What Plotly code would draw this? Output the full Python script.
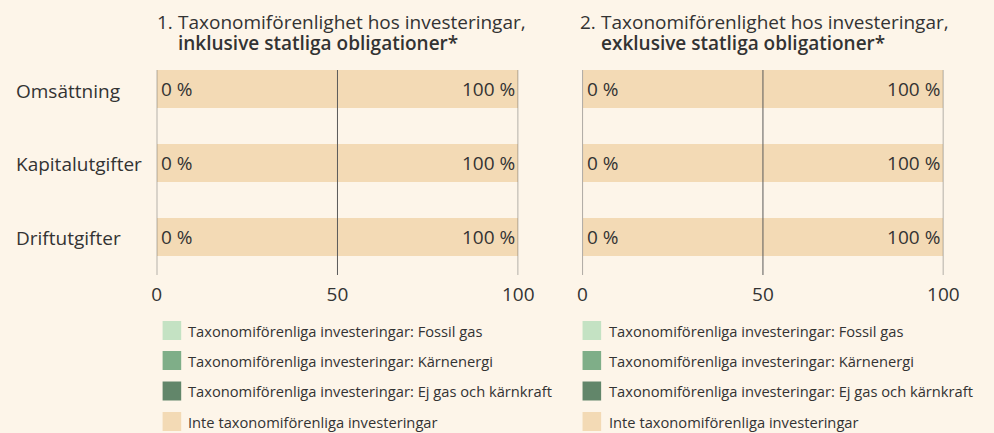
import plotly.graph_objects as go

W, H = 994, 433

categories = ["Omsättning", "Kapitalutgifter", "Driftutgifter"]

# Chart 1: inklusive statliga obligationer
fossil_gas_1 = [0, 0, 0]
karnenergi_1 = [0, 0, 0]
ej_gas_1 = [0, 0, 0]
inte_1 = [100, 100, 100]

# Chart 2: exklusive statliga obligationer
fossil_gas_2 = [0, 0, 0]
karnenergi_2 = [0, 0, 0]
ej_gas_2 = [0, 0, 0]
inte_2 = [100, 100, 100]

series_names = [
    "Taxonomiförenliga investeringar: Fossil gas",
    "Taxonomiförenliga investeringar: Kärnenergi",
    "Taxonomiförenliga investeringar: Ej gas och kärnkraft",
    "Inte taxonomiförenliga investeringar",
]
series_colors = ["#c4e2c3", "#7fae88", "#62866a", "#f3dab5"]

titles = [
    ("1.", "Taxonomiförenlighet hos investeringar,", "inklusive statliga obligationer*"),
    ("2.", "Taxonomiförenlighet hos investeringar,", "exklusive statliga obligationer*"),
]
x_ticks = [0, 50, 100]

BG = "#fdf5e9"
TXT = "#333333"
FONT = "Open Sans"
FS = 19


def px(x):
    return x / W


def py(y):
    return 1 - y / H


fig = go.Figure()
annotations = []

datasets = [
    (fossil_gas_1, karnenergi_1, ej_gas_1, inte_1),
    (fossil_gas_2, karnenergi_2, ej_gas_2, inte_2),
]

for i, data in enumerate(datasets):
    xa = "x" if i == 0 else "x2"
    ya = "y" if i == 0 else "y2"
    for name, color, vals in zip(series_names, series_colors, data):
        is_inte = name.startswith("Inte")
        fig.add_trace(go.Bar(
            y=categories, x=vals, orientation="h", name=name,
            marker=dict(color=color, line=dict(width=0)),
            width=0.514,
            text=[f"{v} %" for v in vals] if is_inte else None,
            textposition="inside", insidetextanchor="end",
            textfont=dict(family=FONT, size=FS, color=TXT),
            xaxis=xa, yaxis=ya, showlegend=False, hoverinfo="skip",
        ))
    aligned = [a + b + c for a, b, c in zip(data[0], data[1], data[2])]
    for c, v in zip(categories, aligned):
        annotations.append(dict(xref=xa, yref=ya, x=v, y=c, text=f"{v} %",
                                xanchor="left", yanchor="middle", xshift=2.5,
                                showarrow=False,
                                font=dict(family=FONT, size=FS, color=TXT)))
    for t in x_ticks:
        fig.add_shape(type="line", xref=xa, yref=f"{ya} domain",
                      x0=t, x1=t, y0=0, y1=1, layer="above",
                      line=dict(color="#5a5a5a", width=1))

x_domains = [[px(155), px(524.3)], [px(590), px(958.6)]]
y_domain = [py(275), py(70)]

axis_common = dict(range=[0, 100], tickvals=x_ticks, showgrid=False, zeroline=False,
                   showline=False, ticks="outside", ticklen=2, tickcolor="rgba(0,0,0,0)",
                   tickfont=dict(family=FONT, size=FS, color=TXT), fixedrange=True)
yaxis_common = dict(type="category", categoryarray=categories, range=[2.514, -0.257],
                    autorange=False, showticklabels=False, showgrid=False,
                    zeroline=False, showline=False, ticks="", fixedrange=True)

fig.update_layout(
    width=W, height=H, autosize=False,
    margin=dict(l=0, r=0, t=0, b=0),
    paper_bgcolor=BG, plot_bgcolor=BG,
    barmode="stack",
    font=dict(family=FONT, color=TXT),
    xaxis=dict(domain=x_domains[0], anchor="y", **axis_common),
    xaxis2=dict(domain=x_domains[1], anchor="y2", **axis_common),
    yaxis=dict(domain=y_domain, anchor="x", **yaxis_common),
    yaxis2=dict(domain=y_domain, anchor="x2", **yaxis_common),
    showlegend=False,
)

# category labels
for c in categories:
    annotations.append(dict(xref="paper", yref="y", x=px(9), y=c, text=c,
                            xanchor="left", yanchor="middle", yshift=-1.5,
                            showarrow=False,
                            font=dict(family=FONT, size=FS, color=TXT)))

# titles
title_x = [(153.5, 175), (585.5, 607)]
for (num, l1, l2), (xn, xt) in zip(titles, title_x):
    annotations.append(dict(xref="paper", yref="paper", x=px(xn), y=py(21.5), text=num,
                            xanchor="left", yanchor="middle", showarrow=False,
                            font=dict(family=FONT, size=FS, color=TXT)))
    annotations.append(dict(xref="paper", yref="paper", x=px(xt), y=py(21.5), text=l1,
                            xanchor="left", yanchor="middle", showarrow=False,
                            font=dict(family=FONT, size=FS, color=TXT)))
    annotations.append(dict(xref="paper", yref="paper", x=px(xt), y=py(43.5), text=l2,
                            xanchor="left", yanchor="middle", showarrow=False,
                            font=dict(family=FONT, size=FS, color=TXT, weight=600)))

# manual legends
legend_x = [(161, 185), (590, 614.5)]
row_y = [330.5, 360.5, 391, 421.5]
for (sx, tx) in legend_x:
    for name, color, ry in zip(series_names, series_colors, row_y):
        fig.add_shape(type="rect", xref="paper", yref="paper",
                      x0=px(sx), x1=px(sx + 19), y0=py(ry + 9.5), y1=py(ry - 9.5),
                      fillcolor=color, line=dict(width=0))
        annotations.append(dict(xref="paper", yref="paper", x=px(tx), y=py(ry), text=name,
                                xanchor="left", yanchor="middle", showarrow=False,
                                font=dict(family=FONT, size=14.7, color=TXT)))

fig.update_layout(annotations=annotations)

fig.write_html(
    "out.html",
    config={"displayModeBar": False, "responsive": False},
    post_script="document.body.style.margin='0';document.body.style.overflow='hidden';",
)
